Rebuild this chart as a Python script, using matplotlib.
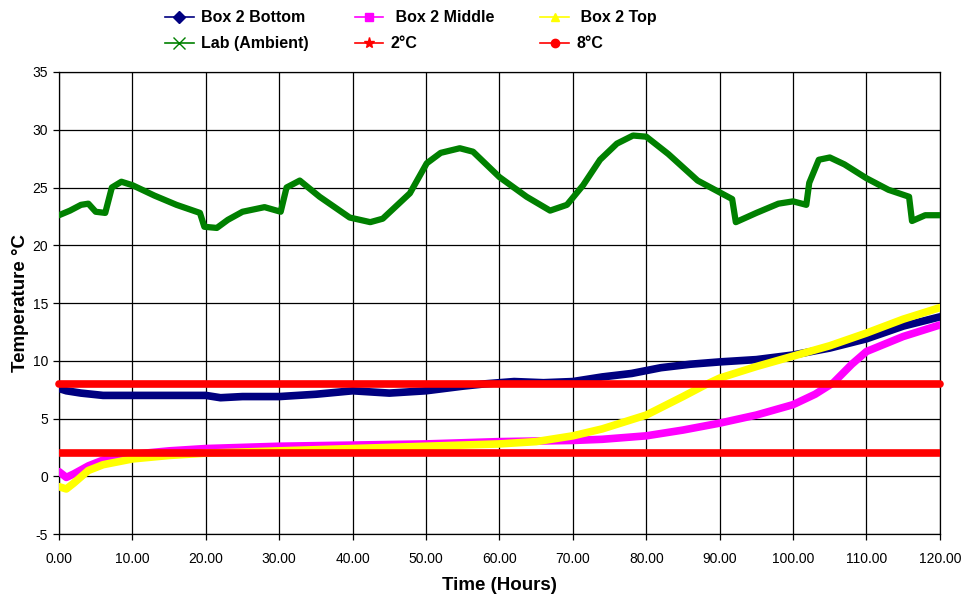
import numpy as np
import matplotlib
matplotlib.use("Agg")
import matplotlib.pyplot as plt
from matplotlib.lines import Line2D

plt.rcParams['font.family'] = ['Liberation Sans', 'DejaVu Sans']
plt.rcParams['axes.unicode_minus'] = False

# logged temperatures, hours since start of the run
bottom_t = [0, 1, 3, 6, 10, 15, 20, 22, 25, 30, 35, 40, 45, 50, 55, 58, 62, 66, 70, 74, 78, 82, 86, 90,
            95, 100, 105, 110, 115, 120]
bottom_v = [7.6, 7.4, 7.2, 7.0, 7.0, 7.0, 7.0, 6.8, 6.9, 6.9, 7.1, 7.4, 7.2, 7.4, 7.8, 8.0, 8.2, 8.1,
            8.2, 8.6, 8.9, 9.4, 9.7, 9.9, 10.1, 10.5, 11.1, 11.9, 13.0, 13.8]

middle_t = [0, 1, 2, 4, 6, 10, 15, 20, 30, 40, 50, 60, 70, 74, 80, 85, 90, 95, 100, 103, 105.5,
            108, 110, 115, 120]
middle_v = [0.4, -0.1, 0.2, 0.9, 1.4, 1.9, 2.2, 2.4, 2.6, 2.7, 2.8, 3.0, 3.1, 3.2, 3.5, 4.0, 4.6,
            5.3, 6.2, 7.1, 8.1, 9.7, 10.8, 12.1, 13.1]

top_t = [0, 1, 2, 4, 6, 10, 15, 20, 30, 40, 50, 60, 65, 70, 74, 80, 85, 88, 90, 95, 100, 105,
         110, 115, 120]
top_v = [-0.9, -1.1, -0.6, 0.5, 1.0, 1.5, 1.8, 2.0, 2.2, 2.4, 2.6, 2.8, 3.0, 3.5, 4.1, 5.3, 6.9,
         7.9, 8.5, 9.5, 10.4, 11.3, 12.4, 13.6, 14.6]

lab_t = [0, 1.5, 3, 4, 5, 6.3, 7.2, 8.5, 10, 13, 16, 19.2, 19.8, 21.5, 23, 25, 28, 30.2, 31, 32.8,
         35.5, 39.6, 42.4, 44.1, 47.8, 50.1, 52, 54.6, 56.4, 60, 63.7, 66.9, 69.2, 71.4, 73.7, 76,
         78.2, 80, 83, 87, 91.7, 92.2, 95, 98, 100, 101.8, 102.2, 103.5, 105, 107, 110, 113, 115.8,
         116.2, 118, 120]
lab_v = [22.6, 23.0, 23.5, 23.6, 22.9, 22.8, 25.0, 25.5, 25.2, 24.3, 23.5, 22.8, 21.6, 21.5, 22.2,
         22.9, 23.3, 22.9, 25.0, 25.6, 24.2, 22.4, 22.0, 22.3, 24.5, 27.1, 28.0, 28.4, 28.1, 25.9,
         24.2, 23.0, 23.5, 25.2, 27.4, 28.8, 29.5, 29.4, 27.9, 25.6, 24.0, 22.0, 22.8, 23.6, 23.8,
         23.5, 25.4, 27.4, 27.6, 27.0, 25.8, 24.8, 24.2, 22.1, 22.6, 22.6]

limit_t = [0, 120]
low_limit = [2, 2]
high_limit = [8, 8]

labels = ['Box 2 Bottom', ' Box 2 Middle', ' Box 2 Top', 'Lab (Ambient)', '2°C', '8°C']
colors = ['#000080', '#FF00FF', '#FFFF00', '#008000', '#FF0000', '#FF0000']
markers = ['D', 's', '^', 'x', '*', 'o']

fig = plt.figure(figsize=(9.64, 5.98), dpi=100)
ax = fig.add_axes([0.0612, 0.107, 0.9138, 0.7726])

ax.plot(bottom_t, bottom_v, color=colors[0], lw=5.5, solid_capstyle='round', zorder=3)
ax.plot(middle_t, middle_v, color=colors[1], lw=5.5, solid_capstyle='round', zorder=4)
ax.plot(top_t, top_v, color=colors[2], lw=5.5, solid_capstyle='round', zorder=5)
ax.plot(lab_t, lab_v, color=colors[3], lw=4.5, solid_capstyle='round', zorder=6)
ax.plot(limit_t, low_limit, color=colors[4], lw=5.5, zorder=7)
ax.plot(limit_t, high_limit, color=colors[5], lw=5.5, solid_capstyle='round', zorder=8,
        clip_on=False)

ax.set_xlim(0, 120)
ax.set_ylim(-5, 35)
ax.set_xticks(np.arange(0, 121, 10))
ax.set_xticklabels([f'{v:.2f}' for v in np.arange(0, 121, 10)])
ax.set_yticks(np.arange(-5, 36, 5))
ax.grid(True, color='black', lw=0.9)
ax.set_axisbelow(True)
for s in ax.spines.values():
    s.set_color('black')
    s.set_linewidth(0.9)
ax.tick_params(axis='x', direction='out', length=4, width=0.9, pad=9, labelsize=10)
ax.tick_params(axis='y', direction='out', length=4, width=0.9, pad=4, labelsize=10)

ax.set_xlabel('Time (Hours)', fontsize=13.5, weight='bold', labelpad=8)
ax.set_ylabel('Temperature °C', fontsize=13.5, weight='bold', labelpad=2)

# legend handles are thin lines with one marker each, laid out row by row
handles = []
for c, m, lab in zip(colors, markers, labels):
    ms = 8 if m in ('x', '*') else 6
    handles.append(Line2D([0], [0], color=c, lw=1.2, marker=m, markersize=ms,
                          markerfacecolor=c, markeredgecolor=c, label=lab))
order = [0, 3, 1, 4, 2, 5]
fig.legend([handles[i] for i in order], [labels[i] for i in order], ncol=3,
           loc='upper left', bbox_to_anchor=(0.156, 1.007), frameon=False,
           prop={'weight': 'bold', 'size': 11.5}, handlelength=1.8, handletextpad=0.45,
           columnspacing=2.9, labelspacing=0.7)

fig.savefig('out.png', dpi=100)
